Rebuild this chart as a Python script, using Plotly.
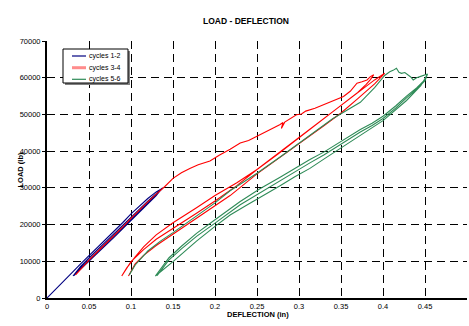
import plotly.graph_objects as go

# ---------------- data ----------------
x_ticks = [0, 0.05, 0.1, 0.15, 0.2, 0.25, 0.3, 0.35, 0.4, 0.45, 0.5]
x_tick_labels = ["0", "0.05", "0.1", "0.15", "0.2", "0.25", "0.3", "0.35", "0.4", "0.45", "0.5"]
y_ticks = [0, 10000, 20000, 30000, 40000, 50000, 60000, 70000]
y_tick_labels = ["0", "10000", "20000", "30000", "40000", "50000", "60000", "70000"]

series_names = ["cycles 1-2", "cycles 3-4", "cycles 5-6"]

# cycles 1-2 : virgin load, unload, reload, unload
blue_x = [0, 0.005, 0.01, 0.02, 0.031, 0.04, 0.05, 0.06, 0.07, 0.08, 0.09, 0.1, 0.11, 0.12, 0.13, 0.138,
          0.13, 0.12, 0.11, 0.1, 0.09, 0.08, 0.07, 0.06, 0.05, 0.04, 0.031,
          0.04, 0.05, 0.06, 0.07, 0.08, 0.09, 0.1, 0.11, 0.12, 0.13, 0.137,
          0.13, 0.12, 0.11, 0.1, 0.09, 0.08, 0.07, 0.06, 0.05, 0.04, 0.032]
blue_y = [0, 1200, 2300, 4700, 7200, 9300, 11500, 13700, 15900, 18100, 20500, 22900, 25100, 27100, 28900, 30000,
          28100, 25900, 23600, 21400, 19200, 17000, 14800, 12600, 10400, 8200, 6000,
          8600, 10900, 13100, 15300, 17500, 19800, 22100, 24300, 26400, 28400, 29900,
          27900, 25600, 23300, 21000, 18800, 16600, 14400, 12200, 10000, 7900, 6100]

# cycles 3-4
red_x = [0.034, 0.04, 0.05, 0.06, 0.07, 0.08, 0.09, 0.1, 0.11, 0.12, 0.13, 0.14,
         0.15, 0.16, 0.17, 0.18, 0.194, 0.205, 0.218, 0.23, 0.24, 0.2575, 0.27, 0.277, 0.281, 0.279, 0.283,
         0.29, 0.297, 0.303, 0.308, 0.319, 0.328, 0.333, 0.337, 0.345, 0.353, 0.361, 0.369, 0.375, 0.381, 0.385, 0.389,
         0.385, 0.38, 0.37, 0.36, 0.34, 0.32, 0.3, 0.275, 0.25, 0.226, 0.2, 0.178, 0.15, 0.13, 0.115, 0.1, 0.089,
         0.095, 0.105, 0.115, 0.13, 0.15, 0.178, 0.2, 0.226, 0.25, 0.275, 0.3, 0.325, 0.35, 0.375, 0.39, 0.402,
         0.396, 0.39, 0.37, 0.35, 0.33, 0.3, 0.275, 0.25, 0.218, 0.2, 0.178, 0.15, 0.13, 0.115, 0.105, 0.097]
red_y = [6300, 7900, 10300, 12600, 14800, 17000, 19300, 21700, 24000, 26200, 28300, 30300,
         32600, 34100, 35300, 36300, 37300, 38900, 40500, 42200, 42900, 44900, 46300, 47200, 47800, 46200, 47900,
         49000, 49900, 50100, 50900, 51700, 52600, 52900, 53500, 54300, 54900, 56300, 58500, 58900, 59400, 60300, 60800,
         59500, 58200, 56000, 54200, 50600, 47100, 43600, 39200, 35000, 30600, 26400, 23100, 18900, 16000, 13200, 9900, 6000,
         8200, 11200, 13900, 17200, 20500, 24600, 27900, 31400, 35000, 39400, 43800, 48000, 52400, 56800, 59400, 61200,
         59800, 58300, 54300, 50400, 47000, 42100, 37900, 33800, 27900, 25100, 21800, 17400, 14300, 11600, 9300, 6000]

# cycles 5-6
green_x = [0.098, 0.105, 0.12, 0.135, 0.15, 0.178, 0.2, 0.218, 0.25, 0.28, 0.313, 0.34, 0.373, 0.39, 0.402,
           0.408, 0.412, 0.416, 0.419, 0.422, 0.426, 0.43, 0.433, 0.436, 0.44, 0.444, 0.448, 0.453,
           0.45, 0.44, 0.428, 0.415, 0.4, 0.387, 0.373, 0.36, 0.349, 0.33, 0.313, 0.295, 0.277, 0.254, 0.23, 0.2, 0.178, 0.16, 0.145, 0.129,
           0.14, 0.15, 0.165, 0.178, 0.2, 0.218, 0.237, 0.254, 0.277, 0.295, 0.313, 0.33, 0.349, 0.373, 0.4, 0.428, 0.445, 0.453,
           0.45, 0.44, 0.428, 0.415, 0.4, 0.387, 0.373, 0.36, 0.349, 0.33, 0.313, 0.295, 0.277, 0.254, 0.23, 0.2, 0.178, 0.16, 0.145, 0.131]
green_y = [6300, 9000, 12800, 15500, 17800, 22300, 25900, 29200, 34000, 38800, 44300, 48800, 53300, 57300, 60600,
           61600, 62000, 62600, 61500, 61200, 61400, 60800, 60200, 59400, 60000, 60300, 60600, 61000,
           59500, 57200, 55000, 52300, 49500, 47600, 45900, 44100, 42500, 39800, 37700, 35200, 32800, 29800, 26300, 21300, 17600, 14100, 10900, 6000,
           8000, 9900, 12900, 15500, 19500, 22600, 25200, 27400, 30500, 33000, 35300, 37900, 40800, 44300, 48300, 53800, 57800, 61000,
           59200, 56800, 54500, 51700, 48900, 47000, 45200, 43300, 41600, 39000, 36800, 34300, 31900, 28800, 25400, 20400, 16800, 13400, 10300, 6100]

colors = ["#000080", "#ff0000", "#2e8b57"]
legend_swatch_colors = ["#000080", "#ff8c8c", "#2e8b57"]
legend_swatch_widths = [1.2, 3, 1.2]

# ---------------- figure ----------------
FONT = "Liberation Sans, Arial, sans-serif"
fig = go.Figure()
for name, xs, ys, c in zip(series_names, [blue_x, red_x, green_x], [blue_y, red_y, green_y], colors):
    fig.add_trace(go.Scatter(x=xs, y=ys, mode="lines", name=name,
                             line=dict(color=c, width=1.1)))

plot_l, plot_r, plot_t, plot_b = 47, 467, 41, 298
W, H = 469, 326
fig.update_layout(
    width=W, height=H,
    margin=dict(l=plot_l, r=W - plot_r, t=plot_t, b=H - plot_b),
    paper_bgcolor="white", plot_bgcolor="white",
    font=dict(family=FONT, size=8, color="black"),
    showlegend=False,
)

def px2paper(px, py):
    return (px - plot_l) / (plot_r - plot_l), (plot_b - py) / (plot_b - plot_t)

# titles
tx, ty = px2paper(246, 14)
ax_x, ax_y = px2paper(258, 321)
ay_x, ay_y = px2paper(13, 170)
fig.add_annotation(text="<b>LOAD - DEFLECTION</b>", x=tx, y=ty, xref="paper", yref="paper",
                   showarrow=False, font=dict(size=8.5, family=FONT))
fig.add_annotation(text="<b>DEFLECTION (in)</b>", x=ax_x, y=ax_y, xref="paper", yref="paper",
                   showarrow=False, font=dict(size=7.5, family=FONT))
fig.add_annotation(text="<b>LOAD (lb)</b>", x=ay_x, y=ay_y, xref="paper", yref="paper",
                   showarrow=False, textangle=-90, font=dict(size=7.5, family=FONT))

# legend box (shadow + frame) drawn as shapes
bx0, by0 = px2paper(63, 83)
bx1, by1 = px2paper(128, 49)
sx0, sy0 = px2paper(65, 85)
sx1, sy1 = px2paper(130, 51)
fig.add_shape(type="rect", xref="paper", yref="paper", x0=sx0, y0=sy0, x1=sx1, y1=sy1,
              fillcolor="#808080", line=dict(width=0), layer="above")
fig.add_shape(type="rect", xref="paper", yref="paper", x0=bx0, y0=by0, x1=bx1, y1=by1,
              fillcolor="white", line=dict(color="black", width=1), layer="above")
for i, name in enumerate(series_names):
    yy = [56, 67.7, 79.3][i]
    lx0, ly = px2paper(72, yy)
    lx1, _ = px2paper(86, yy)
    fig.add_shape(type="line", xref="paper", yref="paper", x0=lx0, x1=lx1, y0=ly, y1=ly,
                  line=dict(color=legend_swatch_colors[i], width=legend_swatch_widths[i]), layer="above")
    tx0, _ = px2paper(87, yy)
    fig.add_annotation(text=name, x=tx0, y=ly, xref="paper", yref="paper", xanchor="left",
                       yanchor="middle", showarrow=False, font=dict(size=7, family=FONT))

fig.update_xaxes(range=[0, 0.5], tickvals=x_ticks, ticktext=x_tick_labels,
                 showgrid=True, gridcolor="black", gridwidth=1, griddash="8px,5px",
                 showline=True, linecolor="black", linewidth=2,
                 ticks="", zeroline=False, tickfont=dict(size=7.5, family=FONT))
fig.update_yaxes(range=[0, 70000], tickvals=y_ticks, ticktext=y_tick_labels,
                 showgrid=True, gridcolor="black", gridwidth=1, griddash="8px,5px",
                 showline=True, linecolor="black", linewidth=2,
                 ticks="outside", ticklen=3, tickcolor="black", zeroline=False,
                 tickfont=dict(size=7.5, family=FONT))

fig.write_html("out.html", config={"displayModeBar": False},
               post_script="document.body.style.margin='0';document.body.style.padding='0';")
